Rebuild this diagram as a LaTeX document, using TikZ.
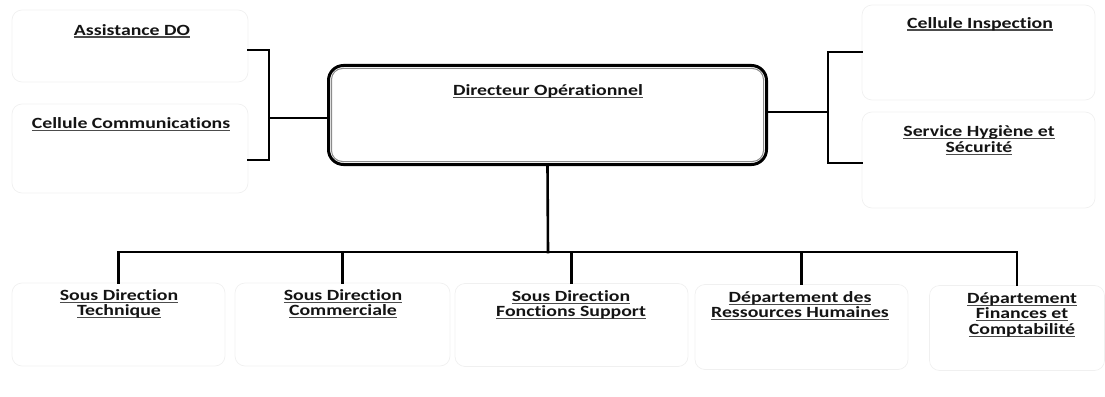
\documentclass[tikz,border=0pt]{standalone}
\usepackage{fontspec}
\setmainfont{Carlito}[Ligatures=NoCommon, FakeStretch=1.27]
\usetikzlibrary{calc}
% underlined label text and a fixed-height strut for the first line
\newcommand\tstrut{\rule{0pt}{12pt}}
\newcommand\ulx[1]{\setbox0=\hbox{#1}\rlap{\color{black!70}\rule[-2.6pt]{\wd0}{1.3pt}}\box0}
\begin{document}
\begin{tikzpicture}[x=1pt,y=-1pt,
  faint/.style={draw=black!6, line width=0.7pt, rounded corners=10pt, inner sep=0pt},
  lab/.style={font=\fontsize{15.6}{15.5}\selectfont\bfseries, align=center, anchor=north, inner sep=0pt, text=black!92},
  link/.style={line width=2.6pt, line cap=rect, line join=miter}
]
\useasboundingbox (0,0) rectangle (1105,396);

% pale frames around the units
\node[faint, minimum width=236pt, minimum height=72pt] (asstbox) at (130,46) {};
\node[faint, minimum width=236pt, minimum height=89pt] (commbox) at (130,148.5) {};
\node[faint, minimum width=233pt, minimum height=95pt] (inspbox) at (978.5,52.5) {};
\node[faint, minimum width=233pt, minimum height=96pt] (hygbox) at (978.5,160) {};
\node[faint, minimum width=213pt, minimum height=83pt] (techbox) at (118.5,324.5) {};
\node[faint, minimum width=215pt, minimum height=83pt] (comcbox) at (342.5,324.5) {};
\node[faint, minimum width=233pt, minimum height=83pt] (suppbox) at (571.5,325) {};
\node[faint, minimum width=213pt, minimum height=85pt] (rhbox) at (801.5,327) {};
\node[faint, minimum width=175pt, minimum height=85pt] (finbox) at (1017,328) {};

% director box: thick outer frame with a thin inner rule
\node[draw, line width=3pt, rounded corners=15pt, minimum width=438pt, minimum height=99pt, inner sep=0pt] (dir) at (547.5,115) {};
\draw[black!45, line width=1pt, rounded corners=11pt] ($(dir.north west)+(4.5,4.5)$) rectangle ($(dir.south east)+(-4.5,-4.5)$);

% labels (node top = first baseline - 12)
\node[lab] (dirlab) at (548,83) {\tstrut\ulx{Directeur Opérationnel}};
\node[lab] (asst) at (132,23) {\tstrut\ulx{Assistance DO}};
\node[lab] (comm) at (131,116) {\tstrut\ulx{Cellule Communications}};
\node[lab] (insp) at (980,16) {\tstrut\ulx{Cellule Inspection}};
\node[lab] (hyg) at (979,124.5) {\tstrut\ulx{Service Hygiène et}\\\ulx{Sécurité}};
\node[lab] (tech) at (119,288) {\tstrut\ulx{Sous Direction}\\\ulx{Technique}};
\node[lab] (comc) at (343,288) {\tstrut\ulx{Sous Direction}\\\ulx{Commerciale}};
\node[lab] (supp) at (571,289) {\tstrut\ulx{Sous Direction}\\\ulx{Fonctions Support}};
\node[lab] (rh) at (800,290) {\tstrut\ulx{Département des}\\\ulx{Ressources Humaines}};
\node[lab] (fin) at (1022,291) {\tstrut\ulx{Département}\\\ulx{Finances et}\\\ulx{Comptabilité}};

% left bracket
\coordinate (lt) at (269,50);
\coordinate (lb) at (269,160);
\coordinate (lm) at (269,118);
\draw[link] (asstbox.east |- lt) -- (lt) -- (lb) -- (commbox.east |- lb);
\draw[link] (lm) -- (dir.west |- lm);

% right bracket
\coordinate (rt) at (828,52);
\coordinate (rb) at (828,163);
\coordinate (rm) at (828,112);
\draw[link] (inspbox.west |- rt) -- (rt) -- (rb) -- (hygbox.west |- rb);
\draw[link] (rm) -- (dir.east |- rm);

% bus to the departments
\coordinate (bus) at (548,252);
\draw[link] (dir.south) -- (bus);
\draw[link] (techbox.north |- bus) -- (finbox.north |- bus);
\foreach \b in {techbox,comcbox,suppbox,rhbox,finbox}
  \draw[link] (\b.north |- bus) -- (\b.north);
\end{tikzpicture}
\end{document}
